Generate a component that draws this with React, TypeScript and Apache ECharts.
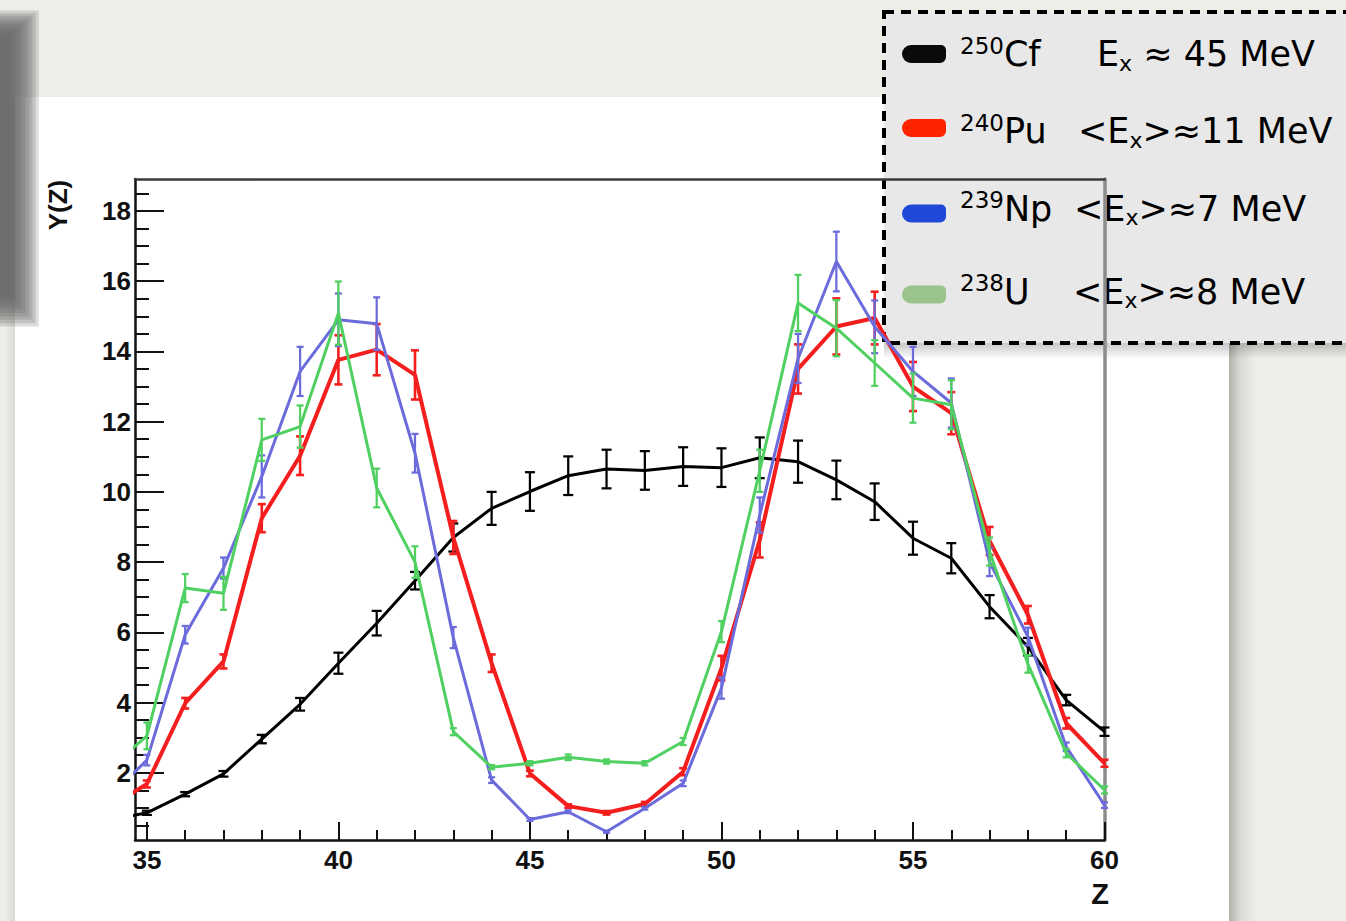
import React, { useEffect, useRef } from 'react';
import * as echarts from 'echarts';

// ---------- data ----------
const zValues = [34, 35, 36, 37, 38, 39, 40, 41, 42, 43, 44, 45, 46, 47, 48, 49, 50, 51, 52, 53, 54, 55, 56, 57, 58, 59, 60];

const cfY = [0.64, 0.86, 1.39, 1.97, 2.96, 3.95, 5.12, 6.26, 7.47, 8.7, 9.53, 10.01, 10.46, 10.65, 10.61, 10.72, 10.69, 10.97, 10.86, 10.34, 9.72, 8.68, 8.11, 6.73, 5.59, 4.07, 3.17];
const cfErr = [0.05, 0.06, 0.06, 0.08, 0.12, 0.18, 0.3, 0.35, 0.25, 0.4, 0.47, 0.55, 0.55, 0.55, 0.55, 0.55, 0.55, 0.58, 0.6, 0.55, 0.52, 0.47, 0.43, 0.33, 0.25, 0.15, 0.12];

const puY = [1.0, 1.68, 3.98, 5.17, 9.25, 11.03, 13.76, 14.05, 13.33, 8.7, 5.12, 1.98, 1.05, 0.86, 1.11, 2.03, 4.98, 8.63, 13.5, 14.71, 14.95, 13.0, 12.24, 8.6, 6.5, 3.41, 2.27];
const puErr = [0.08, 0.1, 0.15, 0.2, 0.4, 0.55, 0.7, 0.73, 0.7, 0.47, 0.25, 0.08, 0.05, 0.05, 0.06, 0.1, 0.35, 0.5, 0.7, 0.8, 0.75, 0.7, 0.6, 0.4, 0.25, 0.15, 0.1];

const npY = [1.3, 2.36, 5.93, 7.83, 10.44, 13.43, 14.9, 14.79, 11.1, 5.85, 1.79, 0.67, 0.89, 0.32, 0.99, 1.7, 4.41, 9.34, 13.8, 16.56, 14.7, 13.43, 12.53, 8.0, 5.88, 2.74, 1.08];
const npErr = [0.1, 0.15, 0.25, 0.3, 0.6, 0.7, 0.75, 0.75, 0.55, 0.3, 0.08, 0.04, 0.04, 0.03, 0.04, 0.08, 0.3, 0.5, 0.7, 0.85, 0.75, 0.7, 0.7, 0.4, 0.25, 0.12, 0.08];

const uY = [2.1, 3.05, 7.26, 7.11, 11.48, 11.86, 15.09, 10.11, 8.0, 3.17, 2.16, 2.27, 2.44, 2.32, 2.27, 2.89, 6.02, 10.6, 15.38, 14.66, 13.67, 12.67, 12.48, 8.3, 5.1, 2.56, 1.51];
const uErr = [0.3, 0.38, 0.4, 0.47, 0.6, 0.6, 0.9, 0.55, 0.45, 0.1, 0.06, 0.06, 0.08, 0.06, 0.06, 0.1, 0.3, 0.6, 0.8, 0.8, 0.65, 0.7, 0.7, 0.4, 0.25, 0.12, 0.1];

const xMajorTicks = [35, 40, 45, 50, 55, 60];
const xMinorTicks = [36, 37, 38, 39, 41, 42, 43, 44, 46, 47, 48, 49, 51, 52, 53, 54, 56, 57, 58, 59];
const yMajorTicks = [2, 4, 6, 8, 10, 12, 14, 16, 18];
const yMinorTicks = [0.5, 1, 1.5, 2.5, 3, 3.5, 4.5, 5, 5.5, 6.5, 7, 7.5, 8.5, 9, 9.5, 10.5, 11, 11.5, 12.5, 13, 13.5, 14.5, 15, 15.5, 16.5, 17, 17.5, 18.5];

const legendMass = ['250', '240', '239', '238'];
const legendNucleus = ['Cf', 'Pu', 'Np', 'U'];
const legendExPre = ['E', '<E', '<E', '<E'];
const legendExPost = [' ≈ 45 MeV', '>≈11 MeV', '>≈7 MeV', '>≈8 MeV'];
const legendSwatch = ['#0a0a0a', '#ff2400', '#1f48d8', '#9bc48c'];

const X_MIN = 34.69;
const X_MAX = 60;
const Y_MIN = 0.085;
const Y_MAX = 18.91;

const seriesDefs = [
  { name: 'Cf', y: cfY, err: cfErr, color: '#000000', width: 3, cap: 5 },
  { name: 'Pu', y: puY, err: puErr, color: '#f41e1e', width: 4, cap: 4 },
  { name: 'Np', y: npY, err: npErr, color: '#6b6bdc', width: 3, cap: 3.5 },
  { name: 'U', y: uY, err: uErr, color: '#4fd060', width: 3, cap: 3.5 },
];

const tickFont = { fontFamily: 'Liberation Sans', fontWeight: 'bold' as const, fontSize: 26, color: '#111' };

function lin(x: number, y: number, x2: number, y2: number, stops: [number, string][]) {
  return new echarts.graphic.LinearGradient(x, y, x2, y2, stops.map(([offset, color]) => ({ offset, color })));
}

function buildOption() {
  const series: any[] = [];
  seriesDefs.forEach((s, si) => {
    series.push({
      type: 'line',
      name: s.name,
      data: zValues.map((z, i) => [z, s.y[i]]),
      symbol: 'none',
      clip: true,
      silent: true,
      lineStyle: { color: s.color, width: s.width },
      z: 3 + si,
    });
    series.push({
      type: 'custom',
      name: s.name + '-err',
      silent: true,
      z: 3 + si,
      encode: { x: 0, y: 1 },
      data: zValues.map((z, i) => [z, s.y[i], s.err[i]]).filter((d) => d[0] >= 35),
      renderItem: (params: any, api: any) => {
        const x = api.value(0);
        const y = api.value(1);
        const e = api.value(2);
        const top = api.coord([x, y + e]);
        const bot = api.coord([x, y - e]);
        const lw = Math.min(s.width * 0.75, 2.6);
        const st = { stroke: s.color, lineWidth: lw };
        return {
          type: 'group',
          children: [
            { type: 'line', shape: { x1: top[0], y1: top[1], x2: bot[0], y2: bot[1] }, style: st },
            { type: 'line', shape: { x1: top[0] - s.cap, y1: top[1], x2: top[0] + s.cap, y2: top[1] }, style: st },
            { type: 'line', shape: { x1: bot[0] - s.cap, y1: bot[1], x2: bot[0] + s.cap, y2: bot[1] }, style: st },
          ],
        };
      },
    });
  });

  const rowY = [54, 131, 208.5, 291.5];
  const swatchY = [54, 128, 213.5, 294.5];
  const richStyles = {
    m: { fontFamily: 'DejaVu Sans', fontSize: 35, lineHeight: 40, fill: '#000' },
    sup: { fontFamily: 'DejaVu Sans', fontSize: 23, lineHeight: 24, verticalAlign: 'top', fill: '#000' },
    sub: { fontFamily: 'DejaVu Sans', fontSize: 22, lineHeight: 28, verticalAlign: 'bottom', fill: '#000' },
  };
  const exX = [1097, 1078, 1074, 1073];

  const legendChildren: any[] = [
    {
      type: 'rect',
      shape: { x: 884, y: 343, width: 470, height: 16 },
      style: { fill: lin(0, 0, 0, 1, [[0, 'rgba(0,0,0,0.22)'], [1, 'rgba(0,0,0,0)']]) },
    },
    {
      type: 'rect',
      shape: { x: 884, y: 12, width: 480, height: 331 },
      style: {
        fill: '#e8e8e8',
        stroke: '#000',
        lineWidth: 4,
        lineDash: [10, 7],
      },
    },
  ];
  legendMass.forEach((m, i) => {
    legendChildren.push({
      type: 'rect',
      shape: { x: 902, y: swatchY[i] - 9, width: 44, height: 18, r: [9, 5, 6, 9] },
      style: { fill: legendSwatch[i] },
    });
    legendChildren.push({
      type: 'text',
      style: {
        x: 960,
        y: rowY[i],
        text: `{sup|${m}}{m|${legendNucleus[i]}}`,
        verticalAlign: 'middle',
        align: 'left',
        rich: richStyles,
      },
    });
    legendChildren.push({
      type: 'text',
      style: {
        x: exX[i],
        y: rowY[i],
        text: `{m|${legendExPre[i]}}{sub|x}{m|${legendExPost[i]}}`,
        verticalAlign: 'middle',
        align: 'left',
        rich: richStyles,
      },
    });
  });

  // soft, blurred dark object at the top left (stack of translucent rects)
  const blurLayers: any[] = [];
  for (let k = 0; k < 10; k++) {
    blurLayers.push({
      type: 'rect',
      z: -19,
      shape: { x: -60, y: 34 - k * 2.6, width: 70 + k * 3.2, height: 262 + k * 6 },
      style: { fill: 'rgba(98,98,98,0.22)' },
    });
  }

  return {
    animation: false,
    backgroundColor: '#efede8',
    grid: { left: 135, top: 179, right: 241.5, bottom: 81, containLabel: false },
    xAxis: [
      {
        type: 'value',
        min: X_MIN,
        max: X_MAX,
        position: 'bottom',
        axisLine: { show: true, onZero: false, lineStyle: { color: '#111', width: 2.5 } },
        axisTick: { show: true, inside: true, length: 18, customValues: xMajorTicks, lineStyle: { color: '#111', width: 2 } },
        axisLabel: { show: true, margin: 7, customValues: xMajorTicks, ...tickFont },
        splitLine: { show: false },
      },
      {
        type: 'value',
        min: X_MIN,
        max: X_MAX,
        position: 'bottom',
        axisLine: { show: false },
        axisTick: { show: true, inside: true, length: 10, customValues: xMinorTicks, lineStyle: { color: '#111', width: 2 } },
        axisLabel: { show: false },
        splitLine: { show: false },
      },
      {
        type: 'value',
        min: X_MIN,
        max: X_MAX,
        position: 'top',
        axisLine: { show: true, onZero: false, lineStyle: { color: '#3a3a3a', width: 2.5 } },
        axisTick: { show: false },
        axisLabel: { show: false },
        splitLine: { show: false },
      },
    ],
    yAxis: [
      {
        type: 'value',
        min: Y_MIN,
        max: Y_MAX,
        position: 'left',
        axisLine: { show: true, onZero: false, lineStyle: { color: '#111', width: 2.5 } },
        axisTick: { show: true, inside: true, length: 29, customValues: yMajorTicks, lineStyle: { color: '#111', width: 2 } },
        axisLabel: { show: true, margin: 4, customValues: yMajorTicks, ...tickFont },
        splitLine: { show: false },
      },
      {
        type: 'value',
        min: Y_MIN,
        max: Y_MAX,
        position: 'left',
        axisLine: { show: false },
        axisTick: { show: true, inside: true, length: 14, customValues: yMinorTicks, lineStyle: { color: '#111', width: 2 } },
        axisLabel: { show: false },
        splitLine: { show: false },
      },
      {
        type: 'value',
        min: Y_MIN,
        max: Y_MAX,
        position: 'right',
        axisLine: { show: true, onZero: false, lineStyle: { color: '#8c8c8c', width: 3.5 } },
        axisTick: { show: false },
        axisLabel: { show: false },
        splitLine: { show: false },
      },
    ],
    graphic: [
      // white slide panel
      {
        type: 'rect',
        z: -20,
        shape: { x: 15, y: 97, width: 1214, height: 900 },
        style: { fill: '#ffffff' },
      },
      // panel shadows
      {
        type: 'rect',
        z: -20,
        shape: { x: 1229, y: 97, width: 26, height: 900 },
        style: { fill: lin(0, 0, 1, 0, [[0, 'rgba(60,60,50,0.35)'], [0.4, 'rgba(60,60,50,0.12)'], [1, 'rgba(60,60,50,0)']]) },
      },
      {
        type: 'rect',
        z: -20,
        shape: { x: 5, y: 97, width: 10, height: 900 },
        style: { fill: lin(0, 0, 1, 0, [[0, 'rgba(60,60,50,0)'], [1, 'rgba(60,60,50,0.12)']]) },
      },
      ...blurLayers,
      {
        type: 'text',
        z: 10,
        x: 58,
        y: 205,
        rotation: Math.PI / 2,
        style: {
          text: 'Y(Z)',
          fontFamily: 'Liberation Sans',
          fontWeight: 'bold',
          fontSize: 26,
          fill: '#111',
          align: 'center',
          verticalAlign: 'middle',
        },
      },
      {
        type: 'text',
        z: 10,
        style: {
          x: 1100,
          y: 894,
          text: 'Z',
          fontFamily: 'Liberation Sans',
          fontWeight: 'bold',
          fontSize: 29,
          fill: '#111',
          align: 'center',
          verticalAlign: 'middle',
        },
      },
      {
        type: 'group',
        z: 50,
        children: legendChildren,
      },
    ],
    series,
  };
}

export default function App() {
  const ref = useRef<HTMLDivElement>(null);
  useEffect(() => {
    if (!ref.current) return;
    const chart = echarts.init(ref.current, null, { renderer: 'svg' });
    chart.setOption(buildOption() as any);
    return () => {
      chart.dispose();
    };
  }, []);
  return (
    <div
      ref={ref}
      style={{ position: 'absolute', left: 0, top: 0, width: 1346, height: 921 }}
    />
  );
}
